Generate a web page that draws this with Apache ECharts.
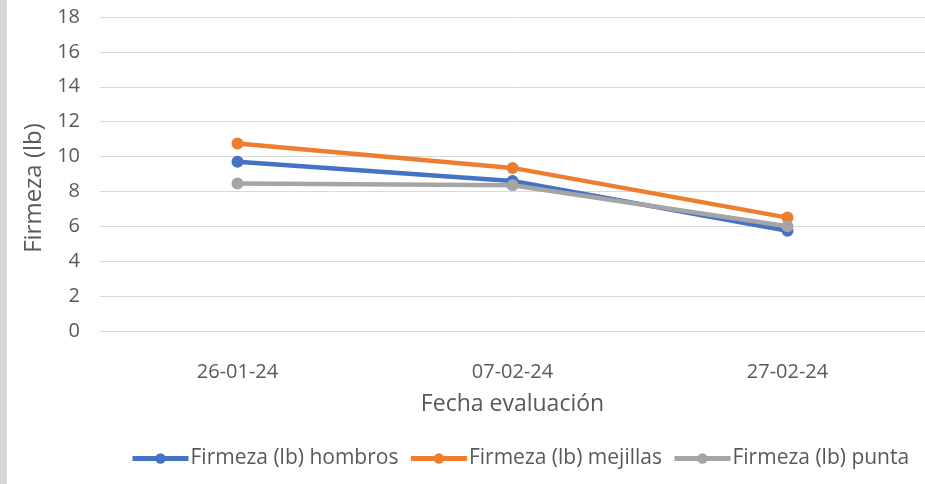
<!DOCTYPE html>
<html>
<head>
<meta charset="utf-8">
<script src="https://cdn.jsdelivr.net/npm/echarts@6/dist/echarts.min.js"></script>
<style>
  html, body { margin: 0; padding: 0; background: #fff; }
  #strip { position: absolute; left: 0; top: 0; width: 7px; height: 484px; background: #dad6da; }
  #chart { width: 925px; height: 484px; }
</style>
</head>
<body>
<div id="strip"></div>
<div id="chart"></div>
<script>
// fechas de evaluación
const categories = ['26-01-24', '07-02-24', '27-02-24'];
const hombros = [9.7, 8.6, 5.75];
const mejillas = [10.75, 9.35, 6.5];
const punta = [8.45, 8.35, 6.0];
const yTicks = { min: 0, max: 18, interval: 2 };

const font = 'Open Sans, Liberation Sans, sans-serif';

const chart = echarts.init(document.getElementById('chart'));

const makeSeries = (name, data, color) => ({
  name,
  type: 'line',
  data,
  symbol: 'circle',
  symbolSize: 12,
  lineStyle: { width: 4.5, color },
  itemStyle: { color },
  emphasis: { disabled: true },
  animation: false
});

chart.setOption({
  textStyle: { fontFamily: font },
  grid: { left: 100, top: 17, width: 837, height: 314 },
  legend: {
    bottom: 10,
    left: 125,
    itemWidth: 56,
    itemHeight: 13,
    itemGap: 10,
    lineStyle: { width: 5 },
    textStyle: { fontSize: 21, color: '#595959', fontFamily: font, padding: [0, 0, 0, -3] },
    data: ['Firmeza (lb) hombros', 'Firmeza (lb) mejillas', 'Firmeza (lb) punta']
  },
  xAxis: {
    type: 'category',
    data: categories,
    boundaryGap: true,
    name: 'Fecha evaluación',
    nameLocation: 'middle',
    nameGap: 62,
    nameTextStyle: { fontSize: 23, color: '#595959' },
    axisLine: { lineStyle: { color: '#d9d9d9', width: 1 } },
    axisTick: { show: false },
    axisLabel: { fontSize: 20, color: '#595959', margin: 31 }
  },
  yAxis: {
    type: 'value',
    min: yTicks.min,
    max: yTicks.max,
    interval: yTicks.interval,
    name: 'Firmeza (lb)',
    nameLocation: 'middle',
    nameGap: 54,
    nameTextStyle: { fontSize: 24, color: '#595959', padding: [0, 28, 0, 0] },
    axisLine: { show: false },
    axisTick: { show: false },
    axisLabel: { fontSize: 20, color: '#595959', margin: 20 },
    splitLine: { lineStyle: { color: '#d9d9d9', width: 1 } }
  },
  series: [
    makeSeries('Firmeza (lb) hombros', hombros, '#4472c4'),
    makeSeries('Firmeza (lb) mejillas', mejillas, '#ed7d31'),
    makeSeries('Firmeza (lb) punta', punta, '#a5a5a5')
  ]
});
</script>
</body>
</html>
